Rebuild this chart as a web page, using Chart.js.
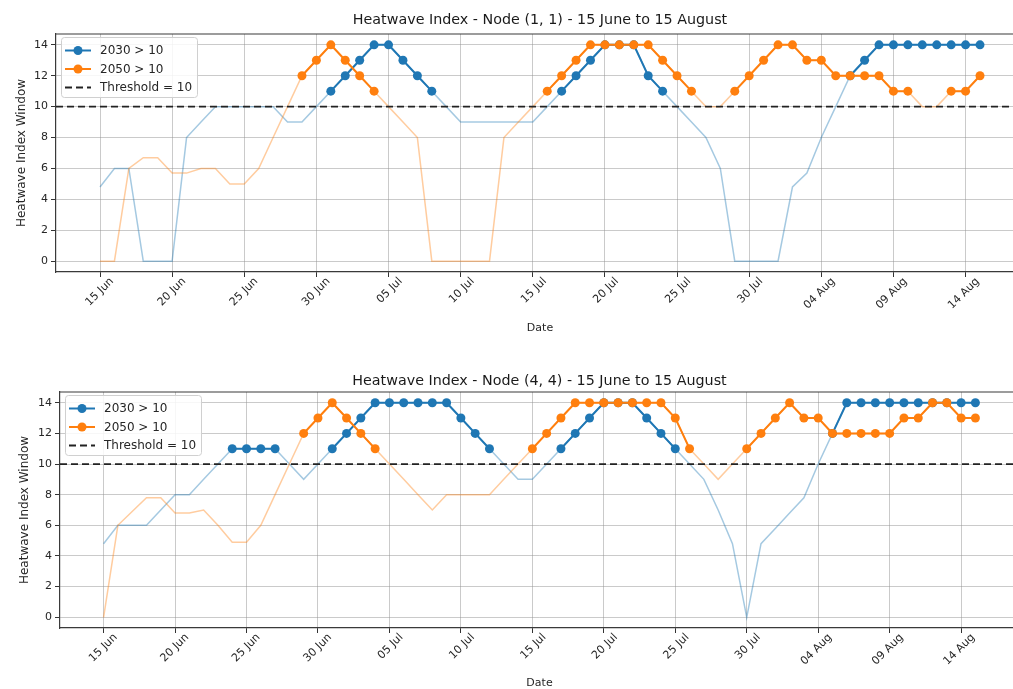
<!DOCTYPE html>
<html>
<head>
<meta charset="utf-8">
<title>Heatwave Index</title>
<script src="https://cdn.jsdelivr.net/npm/chart.js@4.4.0/dist/chart.umd.min.js"></script>
<style>
  html, body { margin: 0; padding: 0; background: #ffffff; overflow: hidden; width: 1013px; height: 689px; }
  canvas { position: absolute; left: 0; }
  #nodeA { top: 0; }
  #nodeB { top: 345px; }
</style>
</head>
<body>
<canvas id="nodeA" width="1030" height="345"></canvas>
<canvas id="nodeB" width="1030" height="350"></canvas>
<script>
// Daily categories, 15 June to 15 August
const dayLabels = [
  '15 Jun','16 Jun','17 Jun','18 Jun','19 Jun','20 Jun','21 Jun','22 Jun','23 Jun','24 Jun',
  '25 Jun','26 Jun','27 Jun','28 Jun','29 Jun','30 Jun',
  '01 Jul','02 Jul','03 Jul','04 Jul','05 Jul','06 Jul','07 Jul','08 Jul','09 Jul','10 Jul',
  '11 Jul','12 Jul','13 Jul','14 Jul','15 Jul','16 Jul','17 Jul','18 Jul','19 Jul','20 Jul',
  '21 Jul','22 Jul','23 Jul','24 Jul','25 Jul','26 Jul','27 Jul','28 Jul','29 Jul','30 Jul','31 Jul',
  '01 Aug','02 Aug','03 Aug','04 Aug','05 Aug','06 Aug','07 Aug','08 Aug','09 Aug','10 Aug',
  '11 Aug','12 Aug','13 Aug','14 Aug','15 Aug'
];
// Every fifth day gets a labelled tick
const tickDays = [0, 5, 10, 15, 20, 25, 30, 35, 40, 45, 50, 55, 60];
const yTicks = [0, 2, 4, 6, 8, 10, 12, 14];

const THRESHOLD = 10;

// Node (1, 1)
const node11_2030 = [
  4.8, 6, 6, 0, 0, 0, 8, 9, 10, 10,
  10, 10, 10, 9, 9, 10, 11, 12, 13, 14,
  14, 13, 12, 11, 10, 9, 9, 9, 9, 9,
  9, 10, 11, 12, 13, 14, 14, 14, 12, 11,
  10, 9, 8, 6, 0, 0, 0, 0, 4.8, 5.7,
  8, 10, 12, 13, 14, 14, 14, 14, 14, 14,
  14, 14
];
const node11_2050 = [
  0, 0, 6, 6.7, 6.7, 5.7, 5.7, 6, 6, 5,
  5, 6, 8, 10, 12, 13, 14, 13, 12, 11,
  10, 9, 8, 0, 0, 0, 0, 0, 8, 9,
  10, 11, 12, 13, 14, 14, 14, 14, 14, 13,
  12, 11, 10, 10, 11, 12, 13, 14, 14, 13,
  13, 12, 12, 12, 12, 11, 11, 10, 10, 11,
  11, 12
];

// Node (4, 4)
const node44_2030 = [
  4.8, 6, 6, 6, 7, 8, 8, 9, 10, 11,
  11, 11, 11, 10, 9, 10, 11, 12, 13, 14,
  14, 14, 14, 14, 14, 13, 12, 11, 10, 9,
  9, 10, 11, 12, 13, 14, 14, 14, 13, 12,
  11, 10, 9, 7, 4.8, 0, 4.8, 5.8, 6.8, 7.8,
  10, 12, 14, 14, 14, 14, 14, 14, 14, 14,
  14, 14
];
const node44_2050 = [
  0, 6, 6.9, 7.8, 7.8, 6.8, 6.8, 7, 6, 4.9,
  4.9, 6, 8, 10, 12, 13, 14, 13, 12, 11,
  10, 9, 8, 7, 8, 8, 8, 8, 9, 10,
  11, 12, 13, 14, 14, 14, 14, 14, 14, 14,
  13, 11, 10, 9, 10, 11, 12, 13, 14, 13,
  13, 12, 12, 12, 12, 12, 13, 13, 14, 14,
  13, 13
];

const BLUE = '#1f77b4';
const ORANGE = '#ff7f0e';
const BLUE_FAINT = 'rgba(31,119,180,0.4)';
const ORANGE_FAINT = 'rgba(255,127,14,0.4)';
const FONT = "'DejaVu Sans', sans-serif";

Chart.defaults.font.family = FONT;
Chart.defaults.color = '#262626';

// x range padded by 5% of the data span on each side
const span = dayLabels.length - 1;
const X_MIN = -0.05 * span;
const X_MAX = span + 0.05 * span;
const Y_MIN = -0.7;
const Y_MAX = 14.7;

const toPoints = arr => arr.map((v, i) => ({ x: i, y: v }));
const aboveOnly = arr => arr.map((v, i) => ({ x: i, y: v > THRESHOLD ? v : null }));

// Top and right frame lines of the axes box
const frame = {
  id: 'frame',
  afterDatasetsDraw(chart) {
    const { ctx, chartArea: a } = chart;
    ctx.save();
    ctx.strokeStyle = '#3a3a3a';
    ctx.lineWidth = 1.2;
    ctx.beginPath();
    ctx.moveTo(a.left, a.top);
    ctx.lineTo(a.right, a.top);
    ctx.lineTo(a.right, a.bottom);
    ctx.stroke();
    ctx.restore();
  }
};

// Axes title, centred over the plot area
const axesTitle = {
  id: 'axesTitle',
  afterDraw(chart, args, opts) {
    const { ctx, chartArea: a } = chart;
    ctx.save();
    ctx.font = `${opts.size}px ${FONT}`;
    ctx.fillStyle = '#1a1a1a';
    ctx.textAlign = 'center';
    ctx.textBaseline = 'middle';
    ctx.fillText(opts.text, (a.left + a.right) / 2, opts.y);
    ctx.restore();
  }
};

// Legend box in the upper-left corner of the plot area
const cornerLegend = {
  id: 'cornerLegend',
  afterDraw(chart) {
    const { ctx, chartArea: a } = chart;
    const items = chart.data.datasets.filter(d => d.label);
    const bx = a.left + 5, by = a.top + 3, bw = 136, bh = 60;
    ctx.save();
    ctx.fillStyle = 'rgba(255,255,255,0.85)';
    ctx.strokeStyle = '#d0d0d0';
    ctx.lineWidth = 1;
    ctx.beginPath();
    ctx.roundRect(bx + 0.5, by + 0.5, bw, bh, 3);
    ctx.fill();
    ctx.stroke();
    ctx.font = `12px ${FONT}`;
    ctx.textBaseline = 'middle';
    ctx.textAlign = 'left';
    items.forEach((d, k) => {
      const yy = by + 13.5 + k * 18.5;
      const x0 = bx + 4, x1 = bx + 30;
      ctx.strokeStyle = d.borderColor;
      ctx.lineWidth = d.borderWidth;
      ctx.setLineDash(d.borderDash || []);
      ctx.beginPath();
      ctx.moveTo(x0, yy);
      ctx.lineTo(x1, yy);
      ctx.stroke();
      ctx.setLineDash([]);
      if (d.pointRadius > 0) {
        ctx.fillStyle = d.pointBackgroundColor;
        ctx.beginPath();
        ctx.arc((x0 + x1) / 2, yy, d.pointRadius, 0, Math.PI * 2);
        ctx.fill();
      }
      ctx.fillStyle = '#262626';
      ctx.fillText(d.label, bx + 39, yy + 0.5);
    });
    ctx.restore();
  }
};

function buildChart(canvasId, title, s2030, s2050, g) {
  return new Chart(document.getElementById(canvasId), {
    type: 'line',
    data: {
      datasets: [
        {
          label: '2030 > 10',
          data: aboveOnly(s2030),
          borderColor: BLUE,
          borderWidth: 2,
          pointRadius: 4.5,
          pointBorderWidth: 0,
          pointBackgroundColor: BLUE,
          spanGaps: false,
          order: 2
        },
        {
          label: '2050 > 10',
          data: aboveOnly(s2050),
          borderColor: ORANGE,
          borderWidth: 2,
          pointRadius: 4.5,
          pointBorderWidth: 0,
          pointBackgroundColor: ORANGE,
          spanGaps: false,
          order: 1
        },
        {
          label: 'Threshold = 10',
          data: [{ x: X_MIN, y: THRESHOLD }, { x: X_MAX, y: THRESHOLD }],
          borderColor: '#222222',
          borderWidth: 1.8,
          borderDash: [7, 4],
          pointRadius: 0,
          order: 0
        },
        {
          data: toPoints(s2050),
          borderColor: ORANGE_FAINT,
          borderWidth: 1.5,
          pointRadius: 0,
          order: 3
        },
        {
          data: toPoints(s2030),
          borderColor: BLUE_FAINT,
          borderWidth: 1.5,
          pointRadius: 0,
          order: 4
        }
      ]
    },
    options: {
      responsive: false,
      animation: false,
      devicePixelRatio: 1,
      layout: { padding: { left: 0, right: g.padRight, top: g.areaTop, bottom: 0 } },
      plugins: {
        legend: { display: false },
        tooltip: { enabled: false },
        title: { display: false },
        axesTitle: { text: title, size: 14.3, y: g.titleY }
      },
      scales: {
        x: {
          type: 'linear',
          min: X_MIN,
          max: X_MAX,
          afterBuildTicks: s => { s.ticks = tickDays.map(v => ({ value: v })); },
          afterFit: s => { s.height = g.xHeight; },
          ticks: {
            autoSkip: false,
            minRotation: 45,
            maxRotation: 45,
            padding: -2,
            labelOffset: 12,
            font: { size: 11 },
            color: '#262626',
            callback: v => dayLabels[v]
          },
          grid: {
            color: 'rgba(150,150,150,0.5)',
            lineWidth: 1,
            tickLength: 5,
            tickColor: '#333333'
          },
          border: { color: '#3a3a3a', width: 1.2 },
          title: {
            display: true,
            text: 'Date',
            font: { size: 11 },
            color: '#262626',
            padding: { top: 0, bottom: g.dateBottom }
          }
        },
        y: {
          min: Y_MIN,
          max: Y_MAX,
          afterBuildTicks: s => { s.ticks = yTicks.map(v => ({ value: v })); },
          afterFit: s => { s.width = g.yWidth; },
          ticks: { padding: 3, font: { size: 11 }, color: '#262626' },
          grid: {
            color: 'rgba(150,150,150,0.5)',
            lineWidth: 1,
            tickLength: 5,
            tickColor: '#333333'
          },
          border: { color: '#3a3a3a', width: 1.2 },
          title: {
            display: true,
            text: 'Heatwave Index Window',
            font: { size: 12 },
            color: '#262626',
            padding: { top: g.yTitleLeft, bottom: 0 }
          }
        }
      }
    },
    plugins: [frame, axesTitle, cornerLegend]
  });
}

buildChart('nodeA', 'Heatwave Index - Node (1, 1) - 15 June to 15 August',
  node11_2030, node11_2050,
  { padRight: 6, areaTop: 34, titleY: 20, xHeight: 73, dateBottom: 10.4, yWidth: 56, yTitleLeft: 14.5 });

buildChart('nodeB', 'Heatwave Index - Node (4, 4) - 15 June to 15 August',
  node44_2030, node44_2050,
  { padRight: 11, areaTop: 47, titleY: 36, xHeight: 67, dateBottom: 5.4, yWidth: 60, yTitleLeft: 17.5 });
</script>
</body>
</html>
